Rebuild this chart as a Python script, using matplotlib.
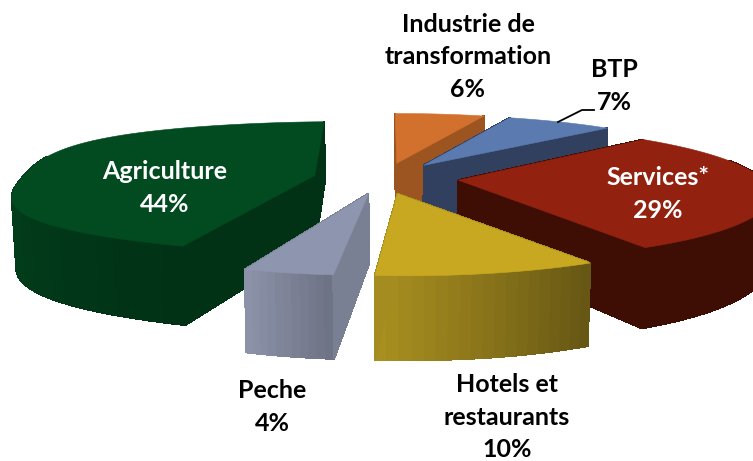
import numpy as np
import matplotlib
matplotlib.use("Agg")
import matplotlib.pyplot as plt
from matplotlib.colors import to_rgb

categories = ["Industrie de\ntransformation", "BTP", "Services*", "Hotels et\nrestaurants", "Peche", "Agriculture"]
values = [6, 7, 29, 10, 4, 44]
top_colors = ["#D2702D", "#5B7BB0", "#92220F", "#C8A820", "#8E95AF", "#024A20"]
side_colors = ["#9C5421", "#31405F", "#3E0E05", "#A58C20", "#7A8094", "#013216"]
arc_start = ["#9C5421", "#31405F", "#3E0E05", "#665714", "#6F7386", "#013216"]
arc_end = ["#9C5421", "#31405F", "#3E0E05", "#A98F20", "#8C92A8", "#02421D"]
gradient_span = [1, 1, 1, 1, 1, 0.45]
label_xy = [(468, 57), (614, 86), (658, 194), (507, 417), (272, 407), (165, 188)]
label_colors = ["black", "black", "white", "black", "black", "white"]
draw_order = [0, 1, 5, 2, 4, 3]
# small perspective calibration of each wedge, edges in degrees, apex in radius units
edge_turn = [(0, -2), (-1, -3), (-2, -2.2), (-2.2, -3.4), (-2.3, -2.5), (0, -1.3)]
apex_nudge = [(0, -0.06), (0.012, -0.06), (0.03, -0.03), (0, 0), (0, 0), (-0.025, -0.03)]
arc_bulge = [0, 0, 0, 0, 0, 0.22]

CX, CY, R, RY, H = 385.0, 180.0, 308.0, 65.0, 69.0
EXPLODE, K_Y, K_X = 0.21, 0.15, 0.015

plt.rcParams['font.family'] = ['Lato', 'DejaVu Sans']
fig = plt.figure(figsize=(7.53, 4.61), dpi=100)
ax = fig.add_axes([0, 0, 1, 1])
ax.set_xlim(0, 753)
ax.set_ylim(461, 0)
ax.axis("off")


def project(X, Y, z):
    s = 1.0 / (1.0 - K_Y * Y - K_X * X)
    xs = 1.0 - 0.012 * (1 - z)
    return CX + R * X * s * xs, CY + RY * Y * s + (1 - z) * H * s


def quad(pts, color, zo):
    ax.fill([p[0] for p in pts], [p[1] for p in pts], color=color, lw=0.8,
            zorder=zo, antialiased=False)


frac = np.cumsum([0] + values) / sum(values) * 2 * np.pi
for rank, i in enumerate(draw_order):
    t0, t1 = frac[i], frac[i + 1]
    m = (t0 + t1) / 2
    ox, oy = EXPLODE * np.sin(m), -EXPLODE * np.cos(m)
    u = np.linspace(0, 1, max(int(values[i] * 2), 12))
    th = t0 + np.radians(edge_turn[i][0]) + u * (t1 - t0 + np.radians(edge_turn[i][1] - edge_turn[i][0]))
    p = 1 - arc_bulge[i] * np.sin(np.pi * u)
    ax_x = ox + np.sign(np.sin(th)) * np.abs(np.sin(th)) ** p
    ax_y = oy - np.sign(np.cos(th)) * np.abs(np.cos(th)) ** p
    apex = (ox + apex_nudge[i][0], oy + apex_nudge[i][1])
    base = rank * 10

    def wall(a, b, c, zo):
        quad([project(*a, 1), project(*b, 1), project(*b, 0), project(*a, 0)], c, zo)

    # radial walls, farther one first
    ends = sorted([(ax_x[0], ax_y[0]), (ax_x[-1], ax_y[-1])], key=lambda q: q[1])
    wall(apex, ends[0], side_colors[i], base + 1)
    # outer wall with a gradient along the arc, painted from back to front
    c0, c1 = np.array(to_rgb(arc_start[i])), np.array(to_rgb(arc_end[i]))
    mid_y = (ax_y[:-1] + ax_y[1:]) / 2
    for j in np.argsort(mid_y):
        if mid_y[j] < oy - 0.35:
            continue
        f = min(1.0, j / (len(th) - 2) / gradient_span[i])
        wall((ax_x[j], ax_y[j]), (ax_x[j + 1], ax_y[j + 1]), tuple(c0 + (c1 - c0) * f), base + 2)
    wall(apex, ends[1], side_colors[i], base + 3)
    # top face
    tx = np.r_[apex[0], ax_x]
    ty = np.r_[apex[1], ax_y]
    px, py = project(tx, ty, 1)
    ax.fill(px, py, color=top_colors[i], lw=0.4, zorder=base + 4)

for name, v, (x, y), c in zip(categories, values, label_xy, label_colors):
    ax.text(x, y, f"{name}\n{v}%", ha="center", va="center", color=c,
            fontsize=18, fontweight="bold", linespacing=1.49, zorder=100)

leader_x = [558, 582, 594]
leader_y = [122, 110, 110]
ax.plot(leader_x, leader_y, color="black", lw=1.3, zorder=90)

fig.savefig("out.png", dpi=100)
